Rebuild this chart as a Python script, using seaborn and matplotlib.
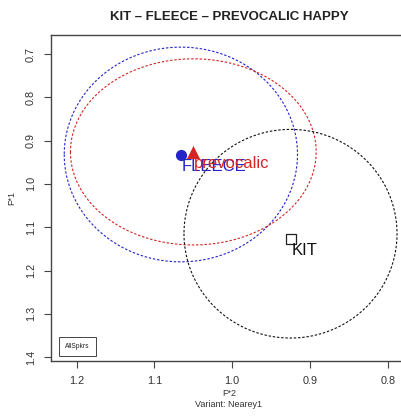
import numpy as np
import pandas as pd
import matplotlib
matplotlib.use("Agg")
import matplotlib.pyplot as plt
import seaborn as sns

# ---- data ----
vowels = ["FLEECE", "prevocalic", "KIT"]
mean_f2 = [1.066, 1.050, 0.925]
mean_f1 = [0.933, 0.926, 1.127]
ell_center_f2 = [1.066, 1.050, 0.925]
ell_center_f1 = [0.932, 0.926, 1.115]
ell_half_f2 = [0.150, 0.158, 0.137]
ell_half_f1 = [0.248, 0.215, 0.241]
ell_angle = [0.0, 0.0, 0.0]
colors = ["#2424c8", "#d42424", "#111111"]
markers = ["o", "^", "s"]

sns.set_style("white")
plt.rcParams["font.family"] = ["Liberation Sans", "DejaVu Sans"]

fig = plt.figure(figsize=(4.02, 4.19), dpi=100)
ax = fig.add_axes([51 / 402, 1 - 361 / 419, (407 - 51) / 402, (361 - 35) / 419])

# ellipses
t = np.linspace(0, 2 * np.pi, 361)
for i, v in enumerate(vowels):
    a = np.deg2rad(ell_angle[i])
    dx = ell_half_f2[i] * np.cos(t)
    dy = ell_half_f1[i] * np.sin(t)
    ex = ell_center_f2[i] + dx * np.cos(a) - dy * np.sin(a)
    ey = ell_center_f1[i] + dx * np.sin(a) + dy * np.cos(a)
    df = pd.DataFrame({"x": ex, "y": ey})
    sns.lineplot(data=df, x="x", y="y", sort=False, estimator=None, ax=ax,
                 color=colors[i], lw=0.8, linestyle=(0, (2.2, 1.6)))

# means
pts = pd.DataFrame({"f2": mean_f2, "f1": mean_f1, "vowel": vowels})
for i, v in enumerate(vowels):
    sub = pts[pts.vowel == v]
    if markers[i] == "s":
        sns.scatterplot(data=sub, x="f2", y="f1", ax=ax, marker="s", s=55,
                        facecolor="white", edgecolor="#222222", linewidth=0.9, zorder=5)
    else:
        sns.scatterplot(data=sub, x="f2", y="f1", ax=ax, marker=markers[i],
                        s=65 if markers[i] == "o" else 90,
                        color=colors[i], edgecolor=colors[i], linewidth=0, zorder=5)
    ax.annotate(v, (mean_f2[i], mean_f1[i]), xytext=(1, -4), textcoords="offset pixels",
                ha="left", va="top", fontsize=12, color=colors[i], zorder=6)

ax.set_xlim(1.233, 0.7752)
ax.set_ylim(1.409, 0.656)
ax.set_xticks([1.2, 1.1, 1.0, 0.9, 0.8])
ax.set_xticklabels(["1.2", "1.1", "1.0", "0.9", "0.8"])
ax.set_yticks([0.7, 0.8, 0.9, 1.0, 1.1, 1.2, 1.3, 1.4])
ax.set_yticklabels(["0.7", "0.8", "0.9", "1.0", "1.1", "1.2", "1.3", "1.4"],
                   rotation=90, va="center")

for s in ["left", "top", "bottom", "right"]:
    ax.spines[s].set_color("#444444")
    ax.spines[s].set_linewidth(1.0)
ax.tick_params(axis="both", direction="out", length=5, width=0.8, color="#444444",
               labelsize=7.8, labelcolor="#333333", pad=6,
               bottom=True, left=True)

ax.set_xlabel("F*2\nVariant: Nearey1", fontsize=6.5, color="#333333", labelpad=2,
              linespacing=1.25)
ax.set_ylabel("F*1", fontsize=6.5, color="#333333", labelpad=7)
ax.set_title("KIT – FLEECE – PREVOCALIC HAPPY", fontsize=9.5, fontweight="bold",
             color="#222222", pad=11)

ax.text(0.075, 0.043, "AllSpkrs", transform=ax.transAxes, fontsize=4.8,
        ha="center", va="center", color="#222222",
        bbox=dict(boxstyle="square,pad=0.9", facecolor="white",
                  edgecolor="#444444", linewidth=0.7))

fig.savefig("out.png", dpi=100)
